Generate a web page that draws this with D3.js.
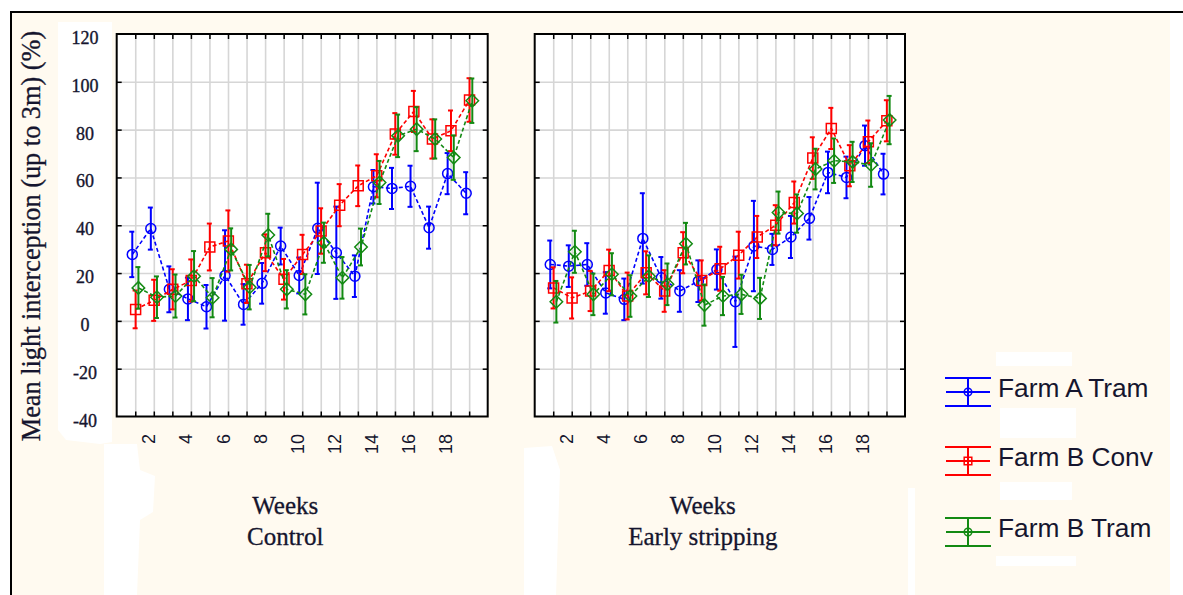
<!DOCTYPE html>
<html>
<head>
<meta charset="utf-8">
<script src="https://cdn.jsdelivr.net/npm/d3@7"></script>
<style>
  html, body { margin: 0; padding: 0; background: #ffffff; }
  svg { display: block; }
</style>
</head>
<body>
<svg id="chart" width="1183" height="595"></svg>
<script>
// ---- data -------------------------------------------------------------
const weeks = d3.range(1, 20);                 // weeks 1..19
const weekLabels = [2, 4, 6, 8, 10, 12, 14, 16, 18];
const yTicks = [-40, -20, 0, 20, 40, 60, 80, 100, 120];
const seriesNames = ["Farm A Tram", "Farm B Conv", "Farm B Tram"];
const panelTitles = ["Control", "Early stripping"];
const axisTitleY = "Mean light interception (up to 3m) (%)";
const axisTitleX = "Weeks";

// Control: means and error half-widths
const controlFarmATram    = [27.8, 38.6, 13.2, 9.2, 5.9, 19.0, 6.9, 15.7, 31.3, 19.0, 38.7, 28.5, 18.7, 56.1, 55.4, 56.3, 39.0, 61.6, 53.4];
const controlFarmATramErr = [9.5, 8.8, 9.6, 8.9, 9.1, 18.9, 8.5, 8.5, 7.7, 7.5, 19.1, 19.3, 8.7, 7.0, 8.6, 8.6, 8.8, 8.6, 8.8];
const controlFarmBConv    = [4.8, 8.6, 13.2, 16.9, 30.9, 33.4, 15.5, 28.5, 17.4, 27.8, 37.6, 48.4, 56.5, 60.7, 78.2, 87.6, 76.1, 79.5, 92.4];
const controlFarmBConvErr = [7.9, 8.6, 8.4, 8.8, 9.8, 12.8, 8.0, 7.7, 8.5, 8.2, 9.5, 8.8, 8.5, 9.0, 8.7, 8.6, 8.2, 8.5, 9.1];
const controlFarmBTram    = [13.8, 9.9, 10.4, 18.7, 9.7, 29.9, 14.1, 35.9, 13.2, 11.1, 32.7, 18.0, 30.9, 57.9, 77.4, 80.2, 76.1, 68.3, 92.1];
const controlFarmBTramErr = [8.7, 8.7, 9.0, 10.5, 8.2, 8.8, 9.3, 8.9, 8.0, 8.4, 8.4, 8.7, 7.7, 9.0, 8.9, 9.2, 8.2, 9.3, 9.3];

// Early stripping: means and error half-widths
const earlyFarmATram    = [23.6, 22.9, 23.6, 11.7, 9.0, 34.5, 18.0, 12.5, 16.6, 21.5, 8.0, 31.3, 29.9, 35.1, 42.9, 62.1, 60.0, 73.3, 61.4];
const earlyFarmATramErr = [10.0, 8.7, 8.9, 8.7, 8.7, 18.9, 8.7, 8.7, 8.7, 8.4, 18.9, 18.9, 6.5, 8.8, 8.9, 8.7, 8.7, 8.4, 8.5];
const earlyFarmBConv    = [13.8, 9.6, 12.5, 21.1, 10.4, 20.1, 12.5, 28.5, 16.9, 21.8, 27.5, 35.1, 40.0, 49.5, 68.1, 80.5, 64.9, 74.9, 83.7];
const earlyFarmBConvErr = [8.6, 8.6, 8.4, 8.7, 9.8, 9.0, 8.7, 8.6, 8.4, 9.2, 9.8, 8.8, 8.4, 8.8, 8.7, 8.6, 8.6, 8.9, 8.6];
const earlyFarmBTram    = [8.0, 28.9, 11.1, 19.5, 10.4, 18.7, 15.3, 32.3, 6.6, 10.4, 11.1, 9.4, 45.3, 44.9, 63.5, 67.0, 66.5, 65.2, 84.0];
const earlyFarmBTramErr = [8.7, 8.8, 8.7, 8.8, 8.7, 8.7, 8.7, 8.7, 8.6, 8.0, 8.2, 8.6, 8.8, 8.0, 8.5, 9.3, 8.4, 9.1, 10.1];

// ---- styles ------------------------------------------------------------
const colors  = ["#0000ff", "#ff0000", "#138a13"];
const markers = ["circle", "square", "diamond"];
const offsets = [-0.16, 0.02, 0.17];   // small horizontal dodge per series (weeks)
const cream = "#fffaf0";
const textColor = "#15152e";
const serif = "'Liberation Serif', 'Times New Roman', serif";
const sans  = "'Liberation Sans', Arial, sans-serif";

const panels = [
  { title: panelTitles[0], x0: 116.7, x1: 487.7, showYLabels: true,
    series: [[controlFarmATram, controlFarmATramErr], [controlFarmBConv, controlFarmBConvErr], [controlFarmBTram, controlFarmBTramErr]] },
  { title: panelTitles[1], x0: 534.7, x1: 905,   showYLabels: false,
    series: [[earlyFarmATram, earlyFarmATramErr], [earlyFarmBConv, earlyFarmBConvErr], [earlyFarmBTram, earlyFarmBTramErr]] }
];
const plotTop = 34, plotBottom = 416.5;

const svg = d3.select("#chart");

// ---- background & outer frame -----------------------------------------
svg.append("rect").attr("x", 12).attr("y", 13).attr("width", 1158).attr("height", 582).attr("fill", cream);
// lighter patches behind the tick labels and titles
const patches = [
  "M58,22 L112,22 L112,442 L100,444 L66,440 L58,430 Z",
  "M104,444 L137,444 L140,470 L155,476 L153,512 L140,520 L137,595 L104,595 Z",
  "M524,448 L552,446 L560,470 L556,595 L524,595 Z",
  "M908,488 L915,488 L915,595 L908,595 Z",
  "M996,352 L1072,352 L1072,366 L996,366 Z",
  "M1000,408 L1076,408 L1076,438 L1000,438 Z",
  "M1000,482 L1072,482 L1072,500 L1000,500 Z",
  "M996,556 L1076,556 L1076,566 L996,566 Z"
];
svg.append("g").selectAll("path").data(patches).join("path")
  .attr("d", d => d).attr("fill", "#ffffff");

svg.append("line").attr("x1", 11).attr("x2", 1183).attr("y1", 12).attr("y2", 12)
  .attr("stroke", "#000").attr("stroke-width", 2);
svg.append("line").attr("x1", 11).attr("x2", 11).attr("y1", 11).attr("y2", 595)
  .attr("stroke", "#000").attr("stroke-width", 2);

// ---- marker shapes -----------------------------------------------------
function markerPath(kind, s) {
  if (kind === "circle") {
    const p = d3.path(); p.arc(0, 0, s, 0, 2 * Math.PI); return p.toString();
  }
  if (kind === "square") return `M${-s},${-s}H${s}V${s}H${-s}Z`;
  const d = s * 1.25;
  return `M0,${-d}L${d},0L0,${d}L${-d},0Z`;
}

// ---- panels ------------------------------------------------------------
const y = d3.scaleLinear().domain([-40, 120]).range([plotBottom, plotTop]);

panels.forEach(panel => {
  const x = d3.scaleLinear().domain([0, 20]).range([panel.x0, panel.x1]);
  const g = svg.append("g");
  const w = panel.x1 - panel.x0, h = plotBottom - plotTop;

  g.append("rect").attr("x", panel.x0).attr("y", plotTop).attr("width", w).attr("height", h).attr("fill", "#fff");

  // grid
  const gridX = g.append("g").attr("transform", `translate(0,${plotBottom})`)
    .call(d3.axisBottom(x).tickValues(weeks).tickSize(-h).tickFormat(""));
  const gridY = g.append("g").attr("transform", `translate(${panel.x0},0)`)
    .call(d3.axisLeft(y).tickValues(yTicks.slice(1, -1)).tickSize(-w).tickFormat(""));
  [gridX, gridY].forEach(a => {
    a.select(".domain").remove();
    a.selectAll("line").attr("stroke", "#d6d6d6").attr("stroke-width", 1.6);
  });

  // inward ticks on all four sides
  const tickAxes = [
    [d3.axisBottom(x).tickValues(weeks), `translate(0,${plotBottom})`],
    [d3.axisTop(x).tickValues(weeks), `translate(0,${plotTop})`],
    [d3.axisLeft(y).tickValues(yTicks.slice(1, -1)), `translate(${panel.x0},0)`],
    [d3.axisRight(y).tickValues(yTicks.slice(1, -1)), `translate(${panel.x1},0)`]
  ];
  tickAxes.forEach(([ax, tr]) => {
    const a = g.append("g").attr("transform", tr).call(ax.tickSize(-5).tickFormat(""));
    a.select(".domain").remove();
    a.selectAll("line").attr("stroke", "#000").attr("stroke-width", 1.5);
  });

  g.append("rect").attr("x", panel.x0).attr("y", plotTop).attr("width", w).attr("height", h)
    .attr("fill", "none").attr("stroke", "#000").attr("stroke-width", 2);

  // x tick labels (rotated)
  g.append("g").selectAll("text").data(weekLabels).join("text")
    .attr("transform", d => `translate(${x(d) + 1.5},434) rotate(-90)`)
    .attr("text-anchor", "end")
    .attr("font-family", sans).attr("font-size", 18).attr("fill", textColor)
    .text(d => d);

  // y tick labels
  if (panel.showYLabels) {
    g.append("g").selectAll("text").data(yTicks).join("text")
      .attr("x", 85).attr("y", d => y(d) + 10)
      .attr("text-anchor", "middle")
      .attr("font-family", serif).attr("font-size", 18).attr("fill", textColor)
      .attr("stroke", textColor).attr("stroke-width", 0.35)
      .text(d => d);
  }

  // panel titles
  const cx = (panel.x0 + panel.x1) / 2 - 17;
  g.append("text").attr("x", cx).attr("y", 514).attr("text-anchor", "middle")
    .attr("font-family", serif).attr("font-size", 25).attr("fill", textColor)
    .attr("stroke", textColor).attr("stroke-width", 0.3).text(axisTitleX);
  g.append("text").attr("x", cx).attr("y", 545).attr("text-anchor", "middle")
    .attr("font-family", serif).attr("font-size", 25).attr("fill", textColor)
    .attr("stroke", textColor).attr("stroke-width", 0.3).text(panel.title);

  // series
  panel.series.forEach(([means, errs], si) => {
    const pts = means.map((m, i) => ({ wk: weeks[i], m, e: errs[i] }));
    const px = d => x(d.wk + offsets[si]);
    const sg = g.append("g");
    sg.append("path").datum(pts)
      .attr("d", d3.line().x(px).y(d => y(d.m)))
      .attr("fill", "none").attr("stroke", colors[si]).attr("stroke-width", 1.6)
      .attr("stroke-dasharray", "4,2.5");
    const bars = sg.append("g").selectAll("g").data(pts).join("g")
      .attr("stroke", colors[si]).attr("stroke-width", 2);
    bars.append("line").attr("x1", px).attr("x2", px)
      .attr("y1", d => y(d.m + d.e)).attr("y2", d => y(d.m - d.e));
    bars.append("line").attr("x1", d => px(d) - 3).attr("x2", d => px(d) + 2)
      .attr("y1", d => y(d.m + d.e)).attr("y2", d => y(d.m + d.e));
    bars.append("line").attr("x1", d => px(d) - 3).attr("x2", d => px(d) + 2)
      .attr("y1", d => y(d.m - d.e)).attr("y2", d => y(d.m - d.e));
    sg.append("g").selectAll("path").data(pts).join("path")
      .attr("transform", d => `translate(${px(d)},${y(d.m)})`)
      .attr("d", markerPath(markers[si], 5))
      .attr("fill", "none").attr("stroke", colors[si]).attr("stroke-width", 1.5);
  });
});

// ---- y axis title -----------------------------------------------------------
svg.append("text")
  .attr("transform", "translate(40,236) rotate(-90)")
  .attr("text-anchor", "middle")
  .attr("font-family", serif).attr("font-size", 26.3).attr("fill", textColor)
  .attr("stroke", textColor).attr("stroke-width", 0.3)
  .text(axisTitleY);

// ---- legend -------------------------------------------------------------
const legendY = [392, 461, 532];
const lg = svg.append("g").selectAll("g").data(seriesNames).join("g")
  .attr("transform", (d, i) => `translate(0,${legendY[i]})`);
lg.each(function (d, i) {
  const s = d3.select(this);
  const c = colors[i];
  [-14, 0, 14].forEach(dy => {
    s.append("line").attr("x1", dy === 0 ? 946 : 945).attr("x2", dy === 0 ? 990 : 991)
      .attr("y1", dy).attr("y2", dy).attr("stroke", c).attr("stroke-width", 2);
  });
  s.append("line").attr("x1", 968).attr("x2", 968).attr("y1", -14).attr("y2", 14)
    .attr("stroke", c).attr("stroke-width", 2);
  s.append("path").attr("transform", "translate(968,0)")
    .attr("d", markerPath(markers[i] === "diamond" ? "circle" : markers[i], 3.8))
    .attr("fill", "none").attr("stroke", c).attr("stroke-width", 1.5);
  s.append("text").attr("x", 998).attr("y", 5)
    .attr("font-family", sans).attr("font-size", 26.3).attr("fill", textColor)
    .text(d);
});
</script>
</body>
</html>
